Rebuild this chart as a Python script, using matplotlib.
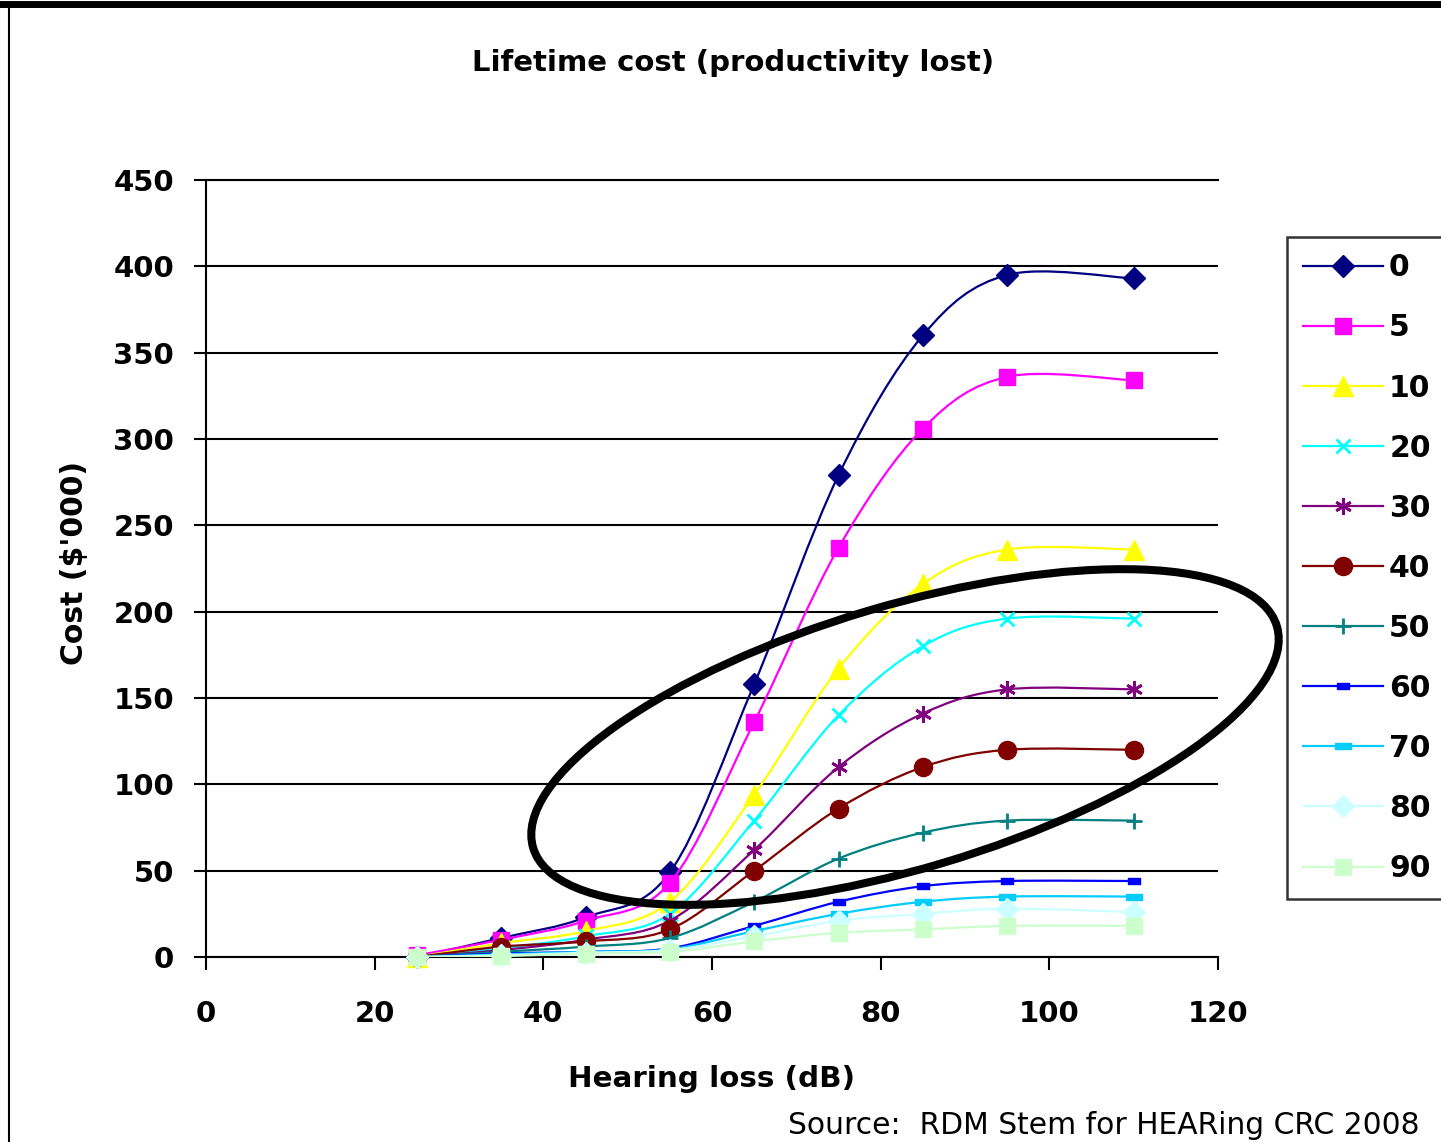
import matplotlib
matplotlib.use("Agg")

import matplotlib.pyplot as plt
import numpy as np
from matplotlib.path import Path
from matplotlib.patches import PathPatch, Ellipse
from matplotlib.lines import Line2D

plt.rcParams['font.family'] = ['DejaVu Sans']

HEARING_LOSS = [25, 35, 45, 55, 65, 75, 85, 95, 110]
SERIES_LABELS = ["0", "5", "10", "20", "30", "40", "50", "60", "70", "80", "90"]

COST_0 = [0, 11, 23, 49, 158, 279, 360, 395, 393]
COST_5 = [1, 10, 21, 43, 136, 237, 306, 336, 334]
COST_10 = [0, 8, 15, 32, 94, 167, 216, 236, 236]
COST_20 = [0, 5, 12, 25, 79, 140, 180, 196, 196]
COST_30 = [0, 4, 10, 21, 62, 110, 141, 155, 155]
COST_40 = [0, 6, 9, 16, 50, 86, 110, 120, 120]
COST_50 = [0, 3, 6, 11, 32, 57, 72, 79, 79]
COST_60 = [0, 2, 3, 5, 18, 32, 41, 44, 44]
COST_70 = [0, 1.5, 3, 4.5, 15, 25, 32, 35, 35]
COST_80 = [0, 1, 2.5, 4, 12, 21, 25, 28, 26]
COST_90 = [0, 0.5, 2, 3, 9, 14, 16, 18, 18]

ALL_COSTS = [COST_0, COST_5, COST_10, COST_20, COST_30, COST_40,
             COST_50, COST_60, COST_70, COST_80, COST_90]

DASH = [(-1, -0.5), (1, -0.5), (1, 0.5), (-1, 0.5), (-1, -0.5)]
LONG_DASH = [(-1.6, -0.5), (1.6, -0.5), (1.6, 0.5), (-1.6, 0.5), (-1.6, -0.5)]

# colour, marker, markersize, edge width
STYLES = [
    ('#000080', 'D', 11, 1),
    ('#FF00FF', 's', 12, 1),
    ('#FFFF00', '^', 14, 1),
    ('#00FFFF', 'x', 10, 2),
    ('#800080', (6, 2, 0), 12, 2),
    ('#800000', 'o', 13, 1),
    ('#008080', '+', 12, 2),
    ('#0000FF', DASH, 9, 1),
    ('#00CCFF', LONG_DASH, 12, 1),
    ('#CCFFFF', 'D', 11, 1),
    ('#CCFFCC', 's', 12, 1),
]


def smooth_path(x, y):
    # Excel-like smoothed line (Catmull-Rom as cubic bezier)
    pts = np.column_stack([x, y]).astype(float)
    padded = np.vstack([pts[0], pts, pts[-1]])
    verts = [pts[0]]
    codes = [Path.MOVETO]
    for i in range(len(pts) - 1):
        p0, p1, p2, p3 = padded[i], padded[i + 1], padded[i + 2], padded[i + 3]
        verts += [p1 + (p2 - p0) / 6, p2 - (p3 - p1) / 6, p2]
        codes += [Path.CURVE4] * 3
    return Path(verts, codes)


W, H = 1441, 1142
fig = plt.figure(figsize=(W / 100, H / 100), dpi=100)
ax = fig.add_axes([206 / W, 1 - 957 / H, (1218 - 206) / W, (957 - 180) / H])

handles = []
for i, (cost, (color, marker, ms, mew)) in enumerate(zip(ALL_COSTS, STYLES)):
    z = 3 + i
    ax.add_patch(PathPatch(smooth_path(HEARING_LOSS, cost), fill=False,
                           edgecolor=color, lw=1.6, zorder=z))
    ax.plot(HEARING_LOSS, cost, linestyle='none', marker=marker, markersize=ms,
            color=color, markeredgecolor=color, markeredgewidth=mew,
            zorder=z, clip_on=False)
    handles.append(Line2D([], [], color=color, lw=1.6, marker=marker, markersize=ms,
                          markeredgecolor=color, markeredgewidth=mew))

ax.set_xlim(0, 120)
ax.set_ylim(0, 450)
ax.set_xticks(range(0, 121, 20))
ax.set_yticks(range(0, 451, 50))
ax.yaxis.grid(True, color='black', lw=1.5)
ax.set_axisbelow(True)
for side in ['left', 'bottom', 'top']:
    ax.spines[side].set_linewidth(1.5)
ax.spines['right'].set_visible(False)
ax.tick_params(axis='y', direction='out', length=9, width=1.5, pad=14, labelsize=21)
ax.tick_params(axis='x', direction='out', length=9, width=1.5, pad=22, labelsize=21)
for lbl in ax.get_xticklabels() + ax.get_yticklabels():
    lbl.set_fontweight('bold')

fig.text(733 / W, 1 - 63 / H, "Lifetime cost (productivity lost)",
         ha='center', va='center', fontsize=21, fontweight='bold')
fig.text(712 / W, 1 - 1079 / H, "Hearing loss (dB)",
         ha='center', va='center', fontsize=21.2, fontweight='bold')
fig.text(75 / W, 1 - 563 / H, "Cost ($'000)", rotation=90,
         ha='center', va='center', fontsize=21.5, fontweight='bold')
fig.text(1420 / W, 1 - 1125 / H, "Source:  RDM Stem for HEARing CRC 2008",
         ha='right', va='center', fontsize=21.4)

leg = fig.legend(handles, SERIES_LABELS, loc='upper left',
                 bbox_to_anchor=(1287 / W, 1 - 237 / H),
                 prop={'size': 21.5, 'weight': 'bold'},
                 frameon=True, fancybox=False, edgecolor='black',
                 handlelength=2.65, handletextpad=0.22, labelspacing=1.04,
                 borderpad=0.55, borderaxespad=0)
leg.get_frame().set_linewidth(1.8)

# hand-drawn highlight ellipse
fig.add_artist(Ellipse((9.05, 4.05), 7.76, 2.63, angle=16.6, fill=False,
                       edgecolor='black', lw=5.8, transform=fig.dpi_scale_trans,
                       zorder=20))

# outer frame (cropped)
fig.add_artist(Line2D([0, 1], [1 - 3.5 / H] * 2, color='black', lw=5))
fig.add_artist(Line2D([9 / W] * 2, [0, 1 - 4 / H], color='black', lw=1.5))

fig.savefig('out.png', dpi=100)
